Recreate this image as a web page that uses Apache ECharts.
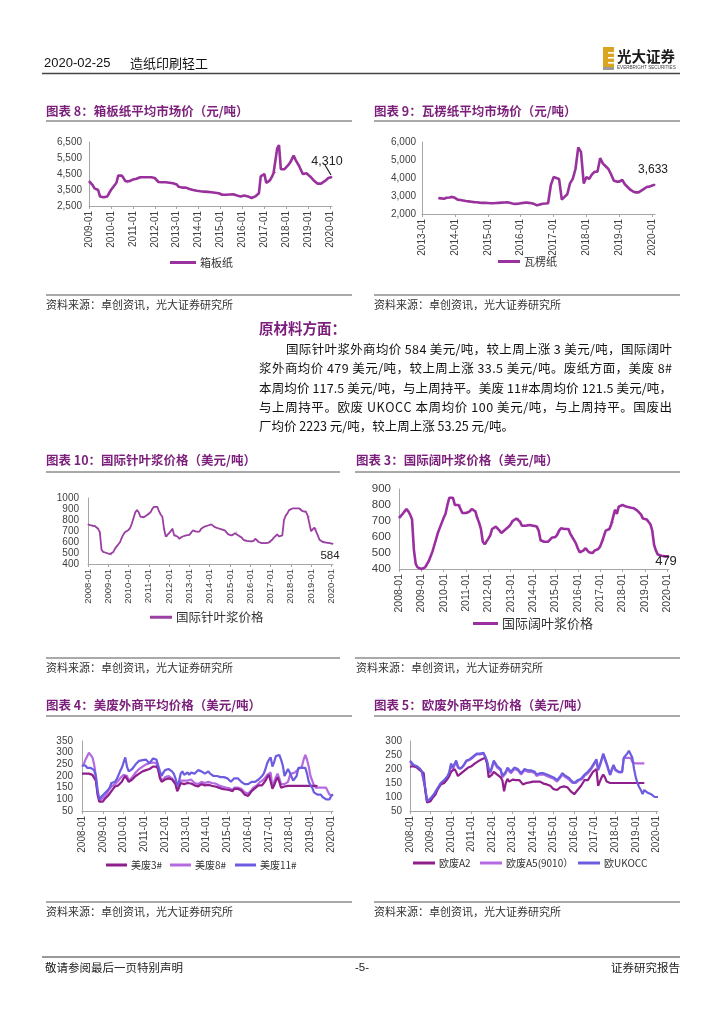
<!DOCTYPE html>
<html><head><meta charset="utf-8">
<script src="https://cdn.jsdelivr.net/npm/echarts/dist/echarts.min.js"></script>
<style>html,body{margin:0;padding:0;background:#fff}#c{width:724px;height:1024px}</style>
</head><body><div id="c"></div>
<script>
// ---------- DATA ----------
const c8Range = ['2009-01', '2020-02'];
const c8Name = '箱板纸';
const c8Vals = [
  4050,4000,3800,3600,3580,3500,3100,3050,3050,3060,3100,3200,
  3500,3600,3800,3950,4400,4400,4400,4350,4050,3950,4050,4100,
  4150,4200,4200,4250,4300,4300,4300,4300,4300,4300,4300,4300,
  4250,4150,4000,3980,3980,3980,3980,3980,3950,3950,3920,3900,
  3850,3700,3650,3650,3650,3650,3620,3560,3520,3500,3480,3450,
  3430,3420,3400,3400,3400,3380,3380,3360,3350,3330,3300,3300,
  3200,3200,3200,3200,3220,3220,3230,3230,3230,3150,3100,3100,
  3100,3150,3150,3100,3050,3000,3050,3100,3150,3300,4350,4450,
  4500,3950,4000,4100,4300,4550,4600,6100,6300,4800,4850,4800,
  4900,5050,5200,5300,5650,5400,5200,5000,4750,4500,4500,4550,
  4500,4350,4300,4100,4000,3900,3880,3900,3950,4050,4150,4250,
  4280,4310];
const c8Label = '4,310';

const c9Range = ['2013-01', '2020-02'];
const c9Name = '瓦楞纸';
const c9Vals = [
  null,null,null,null,null,null,2880,2870,2850,2900,2920,2950,
  2900,2800,2780,2750,2720,2700,2680,2660,2650,2630,2620,2620,
  2610,2600,2600,2610,2620,2630,2640,2650,2620,2580,2560,2570,
  2600,2620,2640,2620,2600,2550,2480,2530,2570,2580,2600,3600,
  4050,4000,3950,2800,2950,3100,3700,3950,4500,5700,5450,3700,
  4050,3950,4200,4350,4350,5100,4800,4650,4500,4200,3850,3800,
  3800,3900,3650,3500,3350,3250,3200,3200,3300,3400,3500,3520,
  3580,3633];
const c9Label = '3,633';

const c10Range = ['2008-01', '2020-02'];
const c10Name = '国际针叶浆价格';
const c10Vals = [
  760,755,750,750,745,735,720,690,530,510,505,500,
  495,490,485,510,540,560,580,600,640,670,690,700,
  710,730,770,820,870,890,870,830,820,825,840,845,
  850,870,900,920,920,920,880,850,830,720,650,655,
  680,700,720,660,665,650,630,645,650,655,660,660,
  665,680,705,700,695,695,695,720,735,740,745,750,
  750,760,750,735,730,725,720,715,715,705,695,670,
  665,660,665,680,690,660,645,640,620,610,610,605,
  605,600,610,630,620,600,590,590,590,590,590,595,
  600,620,640,650,670,650,655,660,800,840,860,890,
  900,905,905,905,905,905,905,880,875,875,840,830,
  700,710,730,720,660,620,615,600,600,595,590,590,
  585,584];
const c10Label = '584';

const c3Range = ['2008-01', '2020-02'];
const c3Name = '国际阔叶浆价格';
const c3Vals = [
  720,720,745,760,775,760,740,710,520,430,410,405,
  400,400,410,420,450,480,510,550,590,630,660,690,
  720,745,800,845,845,845,800,800,800,800,750,750,
  750,750,760,775,775,760,720,690,650,570,555,560,
  590,610,650,660,665,660,640,625,630,645,655,665,
  680,700,710,715,715,695,670,665,670,675,675,670,
  670,675,665,640,580,570,570,570,570,580,595,600,
  600,615,640,655,650,650,650,650,620,610,580,560,
  530,505,505,515,530,530,505,495,500,515,520,525,
  540,570,580,640,645,650,680,690,770,745,790,795,
  800,795,790,788,785,780,780,775,765,755,740,715,
  710,710,700,680,640,550,515,490,485,483,480,479,
  479,479];
const c3Label = '479';

const c4Range = ['2008-01', '2020-02'];
const c4Names = ['美废3#', '美废8#', '美废11#'];
const c4US3 = [
  210,212,210,208,210,205,205,200,180,120,90,85,
  90,100,105,115,125,135,145,155,155,160,165,175,
  190,200,195,175,180,185,190,200,205,210,215,220,
  222,225,228,230,235,240,245,240,230,190,175,178,
  185,190,190,188,185,180,165,135,150,170,170,165,
  165,170,170,168,165,160,155,155,160,165,162,160,
  160,162,160,158,155,155,152,150,148,145,143,142,
  142,140,133,135,145,148,145,140,138,130,120,113,
  115,125,135,142,148,155,160,165,160,170,180,195,
  205,210,145,160,180,195,175,150,150,155,155,158,
  158,158,158,158,158,158,158,158,158,158,158,158,
  158,158,158,158,155,null,null,null,null,null,null,null,
  null,null];
const c4US8 = [
  240,250,270,285,300,295,280,250,200,130,95,100,
  105,110,120,135,145,155,160,165,170,180,190,195,
  205,210,200,180,185,195,205,215,220,230,235,240,
  245,250,255,255,255,258,260,255,250,200,180,185,
  195,200,200,195,190,185,170,145,165,180,185,180,
  178,180,185,185,180,170,165,165,170,175,175,170,
  172,175,172,170,168,168,165,160,158,155,152,150,
  150,148,140,140,150,155,150,148,145,140,130,125,
  125,130,140,150,155,160,165,175,180,185,195,205,
  210,215,150,175,195,210,190,165,160,165,165,175,
  200,210,215,215,220,230,235,240,270,290,270,240,
  200,180,160,150,150,150,150,150,150,150,145,120,
  118,117.5];
const c4US11 = [
  245,240,245,235,230,235,230,225,200,140,100,110,
  115,125,125,140,150,170,175,175,185,190,220,235,
  240,280,240,220,225,230,240,250,250,265,270,268,
  265,270,268,255,265,275,275,270,265,220,200,215,
  225,230,230,225,220,210,190,160,175,210,220,205,
  210,215,205,215,220,210,215,225,225,220,215,210,
  215,220,210,205,200,205,200,200,195,200,195,190,
  190,185,175,180,190,185,190,185,175,170,165,160,
  165,170,175,170,175,180,185,190,200,210,230,255,
  270,280,240,260,285,290,290,270,245,200,215,230,
  215,215,180,175,200,235,235,235,235,235,210,175,
  160,150,130,125,120,115,120,110,105,100,95,100,
  115,121.5];

const c5Range = ['2008-01', '2020-02'];
const c5Names = ['欧废A2', '欧废A5(9010）', '欧UKOCC'];
const c5A2 = [
  208,210,210,205,205,200,195,190,185,120,80,78,
  85,95,100,110,125,135,145,150,150,155,165,175,
  190,195,200,190,175,175,185,190,195,200,205,210,
  210,215,220,225,228,230,235,240,240,220,170,170,
  180,190,185,180,175,170,160,120,150,165,155,150,
  162,160,160,162,160,155,145,140,150,152,152,155,
  155,157,155,155,155,150,148,145,145,145,140,135,
  128,125,125,130,135,140,138,135,135,130,120,115,
  110,115,125,130,140,150,160,155,160,170,180,190,
  195,200,140,155,170,180,170,155,150,150,150,150,
  150,150,150,150,150,150,150,150,150,150,150,150,
  150,150,150,150,150,150,null,null,null,null,null,null,
  null,null];
const c5A5 = [
  225,220,212,208,208,202,198,188,182,125,82,80,
  92,98,108,118,128,138,148,153,158,160,172,186,
  215,200,205,225,205,198,202,208,218,228,232,233,
  238,242,248,252,255,252,252,255,252,228,195,185,
  205,225,215,205,200,195,170,165,185,200,195,185,
  190,200,195,195,190,180,185,195,190,190,185,190,
  195,185,175,180,180,180,180,175,175,172,170,165,
  165,160,155,160,170,180,175,170,165,162,155,150,
  145,150,155,160,160,165,175,180,185,190,200,210,
  220,230,195,210,230,250,245,215,195,178,195,210,
  195,190,188,188,188,240,240,240,240,240,225,220,
  220,220,220,220,220,220,null,null,null,null,null,null,
  null,null];
const c5UK = [
  230,225,215,210,210,205,200,190,185,130,85,82,
  95,100,110,120,130,140,150,155,160,162,175,190,
  220,205,210,230,210,200,205,210,220,230,235,235,
  240,245,250,255,260,255,255,258,255,230,200,190,
  210,230,220,210,205,200,175,170,190,205,200,190,
  195,205,200,200,195,185,190,200,195,195,190,195,
  200,190,180,185,185,185,185,180,180,178,175,170,
  170,165,160,165,175,185,180,175,170,168,160,155,
  150,155,160,165,165,170,180,185,190,195,205,215,
  225,235,200,215,235,255,250,220,200,180,200,215,
  200,195,190,190,190,240,245,255,265,270,240,200,
  170,150,135,125,110,125,120,115,110,110,105,100,
  100,100];

const titles = {
  c8: '图表 8：箱板纸平均市场价（元/吨）',
  c9: '图表 9：瓦楞纸平均市场价（元/吨）',
  c10: '图表 10：国际针叶浆价格（美元/吨）',
  c3: '图表 3：国际阔叶浆价格（美元/吨）',
  c4: '图表 4：美废外商平均价格（美元/吨）',
  c5: '图表 5：欧废外商平均价格（美元/吨）'
};
const sourceText = '资料来源：卓创资讯，光大证券研究所';
const paraHead = '原材料方面：';
const paraLines = [
  '国际针叶浆外商均价 584 美元/吨，较上周上涨 3 美元/吨，国际阔叶',
  '浆外商均价 479 美元/吨，较上周上涨 33.5 美元/吨。废纸方面，美废 8#',
  '本周均价 117.5 美元/吨，与上周持平。美废 11#本周均价 121.5 美元/吨，',
  '与上周持平。欧废 UKOCC 本周均价 100 美元/吨，与上周持平。国废出',
  '厂均价 2223 元/吨，较上周上涨 53.25 元/吨。'
];
const headerDate = '2020-02-25';
const headerSector = '造纸印刷轻工';
const footerLeft = '敬请参阅最后一页特别声明';
const footerMid = '-5-';
const footerRight = '证券研究报告';

// ---------- HELPERS ----------
function months(a, b) {
  const out = [];
  let [y, m] = a.split('-').map(Number);
  const [y2, m2] = b.split('-').map(Number);
  while (y < y2 || (y === y2 && m <= m2)) {
    out.push(y + '-' + String(m).padStart(2, '0'));
    m++; if (m > 12) { m = 1; y++; }
  }
  return out;
}
const CJK = '"Noto Sans CJK SC", sans-serif';
const LAT = '"Liberation Sans", Arial, sans-serif';
const AX = '#a6a6a6';
const TXT = '#404040';
const jan = (i, v) => /-01$/.test(v);

function xAx(gi, range, fs) {
  return {
    type: 'category', gridIndex: gi, data: months(range[0], range[1]), boundaryGap: false,
    axisLine: { lineStyle: { color: AX, width: 1 } },
    axisTick: { show: true, interval: jan, length: 3, lineStyle: { color: AX } },
    axisLabel: { interval: jan, rotate: 90, fontSize: fs, color: TXT, fontFamily: LAT, margin: 5 }
  };
}
function yAx(gi, min, max, interval, fs, margin, comma) {
  return {
    type: 'value', gridIndex: gi, min, max, interval,
    axisLine: { show: true, lineStyle: { color: AX, width: 1 } },
    axisTick: { show: false }, splitLine: { show: false },
    axisLabel: { fontSize: fs, color: TXT, fontFamily: LAT, margin,
      formatter: v => comma ? v.toLocaleString('en-US') : String(v) }
  };
}
function lineS(name, gi, vals, color, width, z) {
  return {
    type: 'line', name, xAxisIndex: gi, yAxisIndex: gi, data: vals.slice(),
    symbol: 'none', showSymbol: false, connectNulls: false, animation: false,
    lineStyle: { color, width }, itemStyle: { color }, z: z || 2
  };
}
// label on the last point; a tiny symbol is kept so that the label has an anchor
function withEndLabel(s, text, pos, offset, fs) {
  const last = s.data.length - 1;
  s.symbol = 'circle'; s.symbolSize = 1; s.showSymbol = true; s.showAllSymbol = true;
  s.label = { show: false };
  s.data[last] = { value: s.data[last], label: { show: true, formatter: text, position: pos,
    offset, fontSize: fs, color: '#222', fontFamily: LAT } };
  return s;
}
function leg(name, left, top, fs, w) {
  return { data: [name], left, top, icon: 'rect', itemWidth: w || 22, itemHeight: 3, padding: 0,
    selectedMode: false, textStyle: { fontSize: fs, color: '#333', fontFamily: CJK, padding: [0, 0, 0, -1] } };
}
function T(x, y, text, font, fill, align) {
  return { type: 'text', x, y, silent: true,
    style: { text, font, fill: fill || '#000', textAlign: align || 'left', textVerticalAlign: 'middle', verticalAlign: 'middle' } };
}
function L(x1, y1, x2, y2, stroke, w) {
  return { type: 'line', silent: true, shape: { x1, y1, x2, y2 }, style: { stroke, lineWidth: w } };
}
// justified line: each character placed so the line fills [x0, x1]
const measureCtx = document.createElement('canvas').getContext('2d');
function justified(text, x0, x1, y, font, fill) {
  measureCtx.font = font;
  const chars = Array.from(text);
  const ws = chars.map(c => measureCtx.measureText(c).width);
  const total = ws.reduce((a, b) => a + b, 0);
  const extra = chars.length > 1 ? (x1 - x0 - total) / (chars.length - 1) : 0;
  const out = [];
  let x = x0;
  chars.forEach((c, i) => {
    if (c !== ' ') out.push(T(x, y, c, font, fill));
    x += ws[i] + extra;
  });
  return out;
}

const PURPLE = '#99329c';
const C_DARK = '#8e1f8c', C_MID = '#b46ae0', C_BLUE = '#6b5ce0';
const TITLE_C = '#7b1f7b';
const titleFont = 'bold 12.5px ' + CJK;
const srcFont = '11px ' + CJK;

// ---------- SERIES ----------
const s8 = withEndLabel(lineS(c8Name, 0, c8Vals, PURPLE, 2.6), c8Label, 'top', [-5, -3], 12.5);
// leader line from the "4,310" label to the last point, placed through the axes
const c8Last = c8Vals.length - 1;
const s8Leader = {
  type: 'custom', name: 'leader', xAxisIndex: 0, yAxisIndex: 0, silent: true, z: 5,
  data: [[c8Last, c8Vals[c8Last]]],
  renderItem: (params, api) => {
    const p = api.coord([api.value(0), api.value(1)]);
    return { type: 'line', shape: { x1: p[0] - 1, y1: p[1] - 2, x2: p[0] - 7, y2: p[1] - 12 },
      style: { stroke: '#111', lineWidth: 1.1 } };
  }
};

const s9 = withEndLabel(lineS(c9Name, 1, c9Vals, PURPLE, 2.6), c9Label, 'top', [-2, -3], 12);
const s10 = withEndLabel(lineS(c10Name, 2, c10Vals, '#9b3fa3', 1.8), c10Label, 'bottom', [-3, 1], 11.5);
const s3 = withEndLabel(lineS(c3Name, 3, c3Vals, '#9b2fa0', 2.6), c3Label, 'bottom', [-3, -7], 13);

const series = [
  s8, s8Leader, s9, s10, s3,
  lineS(c4Names[0], 4, c4US3, C_DARK, 2.2, 3),
  lineS(c4Names[1], 4, c4US8, C_MID, 2.2, 2),
  lineS(c4Names[2], 4, c4US11, C_BLUE, 2.2, 4),
  lineS(c5Names[0], 5, c5A2, C_DARK, 2.2, 3),
  lineS(c5Names[1], 5, c5A5, C_MID, 2.2, 2),
  lineS(c5Names[2], 5, c5UK, C_BLUE, 2.2, 4)
];

// ---------- GRAPHIC (page text) ----------
const g = [];
// header
g.push(T(44, 63, headerDate, '13px ' + LAT, '#111'));
g.push(T(130, 63, headerSector, '13px ' + CJK, '#111'));
g.push(L(42, 73.5, 680, 73.5, '#444', 1.5));
// logo
g.push({ type: 'rect', silent: true, shape: { x: 603, y: 47, width: 11, height: 23 }, style: { fill: '#d9a521' } });
[52, 57, 62].forEach(yy => g.push({ type: 'rect', silent: true, shape: { x: 608, y: yy, width: 6, height: 1.6 }, style: { fill: '#fff' } }));
g.push({ type: 'rect', silent: true, shape: { x: 603, y: 67, width: 11, height: 3 }, style: { fill: '#9b9b9b' } });
g.push(T(617, 56, '光大证券', 'bold 14.5px ' + CJK, '#1a1a1a'));
g.push(T(617, 67.5, 'EVERBRIGHT SECURITIES', '4.6px ' + LAT, '#444'));
// chart titles & rules
g.push(T(46, 111, titles.c8, titleFont, TITLE_C));
g.push(T(374, 111, titles.c9, titleFont, TITLE_C));
g.push(L(46, 121, 352, 121, '#8c8c8c', 1.5));
g.push(L(374, 121, 680, 121, '#8c8c8c', 1.5));
g.push(L(46, 295, 352, 295, '#8c8c8c', 1.5));
g.push(L(374, 295, 680, 295, '#8c8c8c', 1.5));
g.push(T(46, 305, sourceText, srcFont, '#333'));
g.push(T(374, 305, sourceText, srcFont, '#333'));
// paragraph
g.push(T(259, 328, paraHead, 'bold 14.5px ' + CJK, TITLE_C));
const paraY = [349, 368, 388, 407, 426];
const paraFont = '12.5px ' + CJK;
paraLines.forEach((t, i) => {
  if (i < paraLines.length - 1) {
    justified(t, i === 0 ? 286 : 259, 672, paraY[i], paraFont, '#111').forEach(e => g.push(e));
  } else {
    g.push(T(259, paraY[i], t, paraFont, '#111'));
  }
});
// middle titles
g.push(T(46, 460, titles.c10, titleFont, TITLE_C));
g.push(T(356, 460, titles.c3, titleFont, TITLE_C));
g.push(L(46, 472, 340, 472, '#8c8c8c', 1.5));
g.push(L(355, 472, 680, 472, '#8c8c8c', 1.5));
g.push(L(46, 658, 340, 658, '#8c8c8c', 1.5));
g.push(L(355, 658, 680, 658, '#8c8c8c', 1.5));
g.push(T(46, 668, sourceText, srcFont, '#333'));
g.push(T(356, 668, sourceText, srcFont, '#333'));
// bottom titles
g.push(T(46, 705, titles.c4, titleFont, TITLE_C));
g.push(T(374, 705, titles.c5, titleFont, TITLE_C));
g.push(L(46, 716, 352, 716, '#8c8c8c', 1.5));
g.push(L(374, 716, 680, 716, '#8c8c8c', 1.5));
g.push(L(46, 902, 352, 902, '#8c8c8c', 1.5));
g.push(L(374, 902, 680, 902, '#8c8c8c', 1.5));
g.push(T(46, 912, sourceText, srcFont, '#333'));
g.push(T(374, 912, sourceText, srcFont, '#333'));
// footer
g.push(L(42, 957, 680, 957, '#777', 1.5));
g.push(T(45, 968, footerLeft, '11.5px ' + CJK, '#222'));
g.push(T(362, 968, footerMid, '11.5px ' + LAT, '#222', 'center'));
g.push(T(680, 968, footerRight, '11.5px ' + CJK, '#222', 'right'));

// ---------- OPTION ----------
const option = {
  backgroundColor: '#fff',
  animation: false,
  textStyle: { fontFamily: LAT },
  grid: [
    { left: 89, top: 142, width: 243, height: 64 },
    { left: 422, top: 142, width: 233, height: 72 },
    { left: 88, top: 498, width: 245, height: 66 },
    { left: 399, top: 489, width: 270, height: 80 },
    { left: 82, top: 741, width: 251, height: 70 },
    { left: 410, top: 741, width: 248, height: 70 }
  ],
  xAxis: [
    xAx(0, c8Range, 10), xAx(1, c9Range, 10), xAx(2, c10Range, 9.5),
    xAx(3, c3Range, 10.5), xAx(4, c4Range, 10), xAx(5, c5Range, 10)
  ],
  yAxis: [
    yAx(0, 2500, 6500, 1000, 10, 7, true),
    yAx(1, 2000, 6000, 1000, 10, 6, true),
    yAx(2, 400, 1000, 100, 10, 9, false),
    yAx(3, 400, 900, 100, 11.5, 8, false),
    yAx(4, 50, 350, 50, 10, 9, false),
    yAx(5, 50, 300, 50, 10, 8, false)
  ],
  legend: [
    leg(c8Name, 170, 257, 11, 26),
    leg(c9Name, 498, 256, 11, 22),
    leg(c10Name, 150, 611, 12.5, 22),
    leg(c3Name, 473, 617, 13, 25),
    leg(c4Names[0], 106, 860, 10, 21),
    leg(c4Names[1], 170, 860, 10, 21),
    leg(c4Names[2], 235, 860, 10, 21),
    leg(c5Names[0], 413, 858, 10, 22),
    leg(c5Names[1], 480, 858, 10, 22),
    leg(c5Names[2], 578, 858, 10, 22)
  ],
  series,
  graphic: { elements: g }
};
const chart = echarts.init(document.getElementById('c'), null, { renderer: 'canvas' });
chart.setOption(option);
</script></body></html>
